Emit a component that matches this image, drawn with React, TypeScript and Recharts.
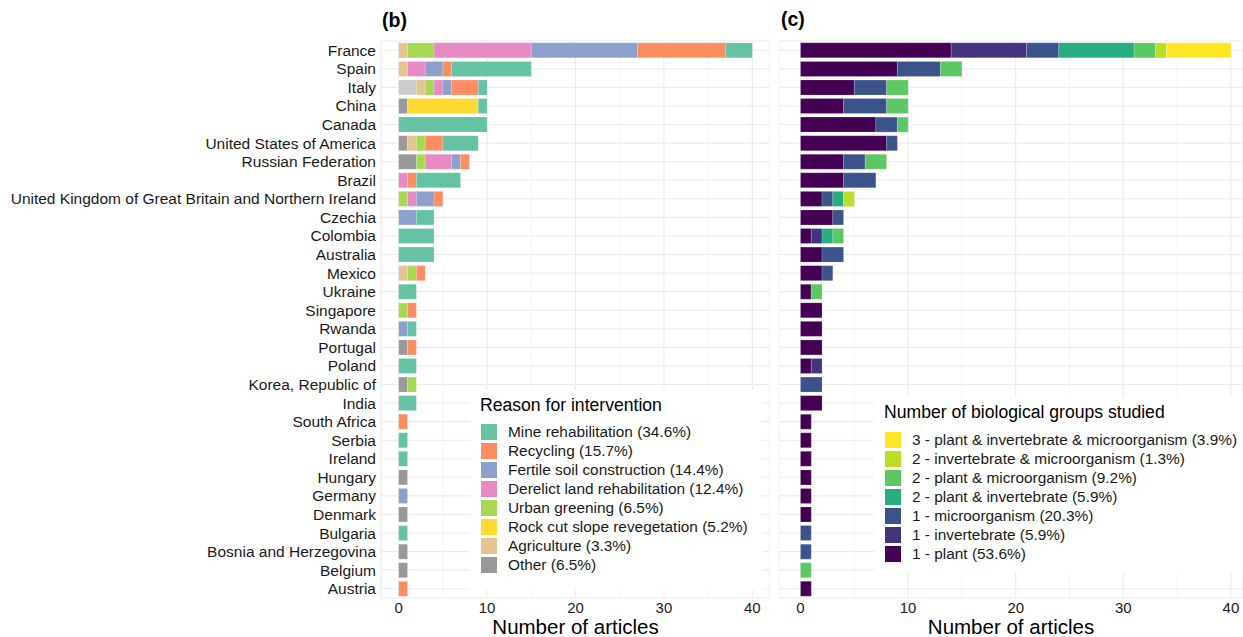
import { BarChart, Bar, XAxis, YAxis, CartesianGrid, Label } from 'recharts';

// 国家（从上到下）
const countries = [
  'France', 'Spain', 'Italy', 'China', 'Canada', 'United States of America', 'Russian Federation',
  'Brazil', 'United Kingdom of Great Britain and Northern Ireland', 'Czechia', 'Colombia', 'Australia',
  'Mexico', 'Ukraine', 'Singapore', 'Rwanda', 'Portugal', 'Poland', 'Korea, Republic of', 'India',
  'South Africa', 'Serbia', 'Ireland', 'Hungary', 'Germany', 'Denmark', 'Bulgaria',
  'Bosnia and Herzegovina', 'Belgium', 'Austria',
];

// (b) reason for intervention
const naReason =    [0, 0, 2, 0, 0, 0, 0, 0, 0, 0, 0, 0, 0, 0, 0, 0, 0, 0, 0, 0, 0, 0, 0, 0, 0, 0, 0, 0, 0, 0];
const other =       [0, 0, 0, 1, 0, 1, 2, 0, 0, 0, 0, 0, 0, 0, 0, 0, 1, 0, 1, 0, 0, 0, 0, 1, 0, 1, 0, 1, 1, 0];
const agriculture = [1, 1, 1, 0, 0, 1, 0, 0, 0, 0, 0, 0, 1, 0, 0, 0, 0, 0, 0, 0, 0, 0, 0, 0, 0, 0, 0, 0, 0, 0];
const rockCut =     [0, 0, 0, 8, 0, 0, 0, 0, 0, 0, 0, 0, 0, 0, 0, 0, 0, 0, 0, 0, 0, 0, 0, 0, 0, 0, 0, 0, 0, 0];
const urban =       [3, 0, 1, 0, 0, 1, 1, 0, 1, 0, 0, 0, 1, 0, 1, 0, 0, 0, 1, 0, 0, 0, 0, 0, 0, 0, 0, 0, 0, 0];
const derelict =    [11, 2, 1, 0, 0, 0, 3, 1, 1, 0, 0, 0, 0, 0, 0, 0, 0, 0, 0, 0, 0, 0, 0, 0, 0, 0, 0, 0, 0, 0];
const fertile =     [12, 2, 1, 0, 0, 0, 1, 0, 2, 2, 0, 0, 0, 0, 0, 1, 0, 0, 0, 0, 0, 0, 0, 0, 1, 0, 0, 0, 0, 0];
const recycling =   [10, 1, 3, 0, 0, 2, 1, 1, 1, 0, 0, 0, 1, 0, 1, 0, 1, 0, 0, 0, 1, 0, 0, 0, 0, 0, 0, 0, 0, 1];
const mine =        [3, 9, 1, 1, 10, 4, 0, 5, 0, 2, 4, 4, 0, 2, 0, 1, 0, 2, 0, 2, 0, 1, 1, 0, 0, 0, 1, 0, 0, 0];

// (c) biological groups
const plant =        [14, 9, 5, 4, 7, 8, 4, 4, 2, 3, 1, 2, 2, 1, 2, 2, 2, 1, 0, 2, 1, 1, 1, 1, 1, 1, 0, 0, 0, 1];
const invertebrate = [7, 0, 0, 0, 0, 0, 0, 0, 0, 0, 1, 0, 0, 0, 0, 0, 0, 1, 0, 0, 0, 0, 0, 0, 0, 0, 0, 0, 0, 0];
const microorg =     [3, 4, 3, 4, 2, 1, 2, 3, 1, 1, 0, 2, 1, 0, 0, 0, 0, 0, 2, 0, 0, 0, 0, 0, 0, 0, 1, 1, 0, 0];
const plantInv =     [7, 0, 0, 0, 0, 0, 0, 0, 1, 0, 1, 0, 0, 0, 0, 0, 0, 0, 0, 0, 0, 0, 0, 0, 0, 0, 0, 0, 0, 0];
const plantMicro =   [2, 2, 2, 2, 1, 0, 2, 0, 0, 0, 1, 0, 0, 1, 0, 0, 0, 0, 0, 0, 0, 0, 0, 0, 0, 0, 0, 0, 1, 0];
const invMicro =     [1, 0, 0, 0, 0, 0, 0, 0, 1, 0, 0, 0, 0, 0, 0, 0, 0, 0, 0, 0, 0, 0, 0, 0, 0, 0, 0, 0, 0, 0];
const allThree =     [6, 0, 0, 0, 0, 0, 0, 0, 0, 0, 0, 0, 0, 0, 0, 0, 0, 0, 0, 0, 0, 0, 0, 0, 0, 0, 0, 0, 0, 0];

const xTicks = [0, 10, 20, 30, 40];
const minorTicks = [5, 15, 25, 35];

// 堆叠顺序：从左到右
const reasonSeries = [
  { key: 'na', label: '', color: '#CCCCCC', values: naReason },
  { key: 'other', label: 'Other (6.5%)', color: '#999999', values: other },
  { key: 'agri', label: 'Agriculture (3.3%)', color: '#E5C494', values: agriculture },
  { key: 'rock', label: 'Rock cut slope revegetation (5.2%)', color: '#FFD92F', values: rockCut },
  { key: 'urban', label: 'Urban greening (6.5%)', color: '#A6D854', values: urban },
  { key: 'derelict', label: 'Derelict land rehabilitation (12.4%)', color: '#E78AC3', values: derelict },
  { key: 'fertile', label: 'Fertile soil construction (14.4%)', color: '#8DA0CB', values: fertile },
  { key: 'recycling', label: 'Recycling (15.7%)', color: '#FC8D62', values: recycling },
  { key: 'mine', label: 'Mine rehabilitation (34.6%)', color: '#66C2A5', values: mine },
];

const bioSeries = [
  { key: 'plant', label: '1 - plant (53.6%)', color: '#440154', values: plant },
  { key: 'inv', label: '1 - invertebrate (5.9%)', color: '#46337E', values: invertebrate },
  { key: 'micro', label: '1 - microorganism (20.3%)', color: '#3B528B', values: microorg },
  { key: 'pi', label: '2 - plant & invertebrate (5.9%)', color: '#27AD81', values: plantInv },
  { key: 'pm', label: '2 - plant & microorganism (9.2%)', color: '#5DC863', values: plantMicro },
  { key: 'im', label: '2 - invertebrate & microorganism (1.3%)', color: '#BADE28', values: invMicro },
  { key: 'all', label: '3 - plant & invertebrate & microorganism (3.9%)', color: '#FDE725', values: allThree },
];

const toRows = (series: { key: string; values: number[] }[]) =>
  countries.map((name, i) => {
    const row: any = { name };
    series.forEach((s) => (row[s.key] = s.values[i]));
    return row;
  });

const reasonData = toRows(reasonSeries);
const bioData = toRows(bioSeries);

const FONT = '"Liberation Sans", Arial, sans-serif';

function LegendBox({ title, items, left, top, width, height, titleGap }: any) {
  return (
    <div
      style={{
        position: 'absolute', left, top, width, height, background: '#fff',
        fontFamily: FONT, color: '#000', padding: '0 0 0 10px', boxSizing: 'border-box',
      }}
    >
      <div style={{ fontSize: 17.6, marginTop: 5, marginBottom: titleGap, whiteSpace: 'nowrap' }}>{title}</div>
      {items.map((it: any) => (
        <div key={it.label} style={{ display: 'flex', alignItems: 'center', height: 19.1 }}>
          <div style={{ width: 18, height: 18, background: it.color, border: '1px solid #fff', boxSizing: 'border-box' }} />
          <span style={{ fontSize: 15.4, marginLeft: 10, whiteSpace: 'nowrap', color: '#1a1a1a' }}>{it.label}</span>
        </div>
      ))}
    </div>
  );
}

function Panel({ data, series, yAxis, width, domain }: any) {
  return (
    <BarChart
      width={width}
      height={637}
      data={data}
      layout="vertical"
      barCategoryGap="10%"
      margin={{ top: 41, right: 0, bottom: 0, left: 0 }}
    >
      {/* 次网格线（隐藏的第二条 X 轴） */}
      <CartesianGrid xAxisId="minor" horizontal={false} stroke="#F2F2F2" strokeWidth={0.8} />
      <CartesianGrid stroke="#EBEBEB" strokeWidth={1.1} />
      <XAxis
        xAxisId="minor"
        type="number"
        domain={domain}
        allowDataOverflow
        ticks={minorTicks}
        hide
      />
      <XAxis
        type="number"
        domain={domain}
        allowDataOverflow
        ticks={xTicks}
        axisLine={false}
        tickLine={false}
        tickSize={0}
        tickMargin={4}
        height={39}
        tick={{ fill: '#1a1a1a', fontSize: 15, fontFamily: FONT }}
      >
        <Label
          value="Number of articles"
          position="insideBottom"
          offset={3}
          style={{ fill: '#000', fontSize: 20.5, fontFamily: FONT }}
        />
      </XAxis>
      <YAxis
        type="category"
        dataKey="name"
        hide={!yAxis}
        width={yAxis ? 381 : 0}
        axisLine={false}
        tickLine={false}
        tickSize={0}
        tickMargin={5}
        interval={0}
        tick={{ fill: '#1a1a1a', fontSize: 15.5, fontFamily: FONT }}
      />
      {series.map((s: any) => (
        <Bar
          key={s.key}
          dataKey={s.key}
          stackId="a"
          fill={s.color}
          stroke="#ffffff"
          strokeOpacity={0.35}
          strokeWidth={0.5}
          isAnimationActive={false}
        />
      ))}
    </BarChart>
  );
}

export default function App() {
  const reasonLegend = reasonSeries.filter((s) => s.label).reverse();
  const bioLegend = [...bioSeries].reverse();
  return (
    <div style={{ position: 'absolute', left: 0, top: 0, width: 1243, height: 637, background: '#fff', overflow: 'hidden' }}>
      <div style={{ position: 'absolute', left: 0, top: 0 }}>
        <Panel data={reasonData} series={reasonSeries} yAxis width={770} domain={[-2, 42]} />
      </div>
      <div style={{ position: 'absolute', left: 779, top: 0 }}>
        <Panel data={bioData} series={bioSeries} yAxis={false} width={464} domain={[-2, 41.12]} />
      </div>
      <div style={{ position: 'absolute', left: 382, top: 9, fontFamily: FONT, fontWeight: 'bold', fontSize: 19.5 }}>(b)</div>
      <div style={{ position: 'absolute', left: 781, top: 8, fontFamily: FONT, fontWeight: 'bold', fontSize: 19.5 }}>(c)</div>
      <LegendBox title="Reason for intervention" items={reasonLegend} left={470} top={390} width={292} height={200} titleGap={6} />
      <LegendBox title="Number of biological groups studied" items={bioLegend} left={874} top={397} width={369} height={175} titleGap={7} />
    </div>
  );
}
